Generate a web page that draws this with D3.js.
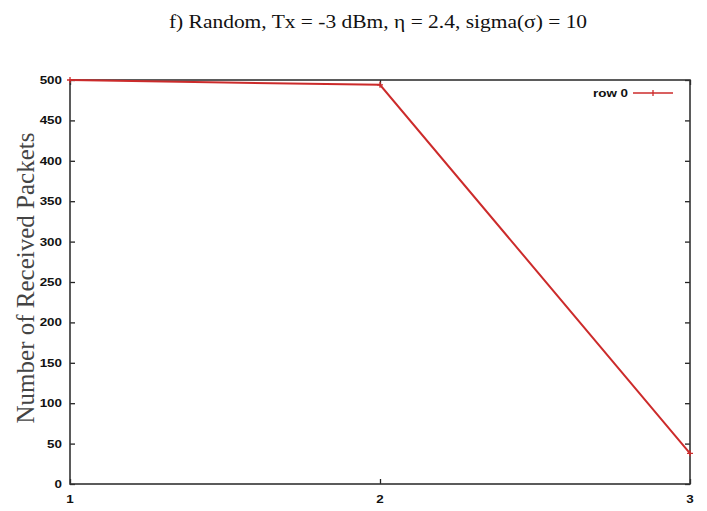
<!DOCTYPE html>
<html><head><meta charset="utf-8">
<script src="https://cdn.jsdelivr.net/npm/d3@7"></script>
<style>body{margin:0;background:#fff}svg{display:block}</style>
</head><body>
<script>
const xValues = [1, 2, 3];
const yValues = [500, 494, 38];
const yTicks = [0, 50, 100, 150, 200, 250, 300, 350, 400, 450, 500];
const xTicks = [1, 2, 3];
const seriesName = "row 0";
const title = "f) Random, Tx = -3 dBm, \u03b7 = 2.4, sigma(\u03c3) = 10";
const yLabel = "Number of Received Packets";

const W = 707, H = 511;
const m = {l: 70, r: 17, t: 80, b: 27};
const svg = d3.select("body").append("svg").attr("width", W).attr("height", H);
const x = d3.scaleLinear().domain([1, 3]).range([m.l, W - m.r]);
const y = d3.scaleLinear().domain([0, 500]).range([H - m.b, m.t]);
const red = "#cc2b2b";
const tf = "'Liberation Sans', Arial, sans-serif";
const serif = "'Liberation Serif', 'Times New Roman', serif";
const sx = 1.22;

svg.append("text").attr("transform", "translate(378,28) scale(1.13,1)").attr("text-anchor", "middle")
  .attr("font-family", serif).attr("font-size", 19).attr("fill", "#111")
  .text(title);

svg.append("text").attr("transform", `translate(34,278) rotate(-90)`)
  .attr("text-anchor", "middle")
  .attr("font-family", serif).attr("font-size", 25).attr("fill", "#444")
  .text(yLabel);

// left axis
const gl = svg.append("g").attr("transform", `translate(${m.l},0)`)
  .call(d3.axisLeft(y).tickValues(yTicks).tickSize(-5).tickFormat(""));
gl.select(".domain").remove();
gl.selectAll("line").attr("stroke", "#222").attr("stroke-width", 1.3);
svg.append("g").selectAll("text").data(yTicks).enter().append("text")
  .attr("transform", d => `translate(62,${y(d) + 4}) scale(${sx},1)`)
  .attr("text-anchor", "end").attr("font-family", tf).attr("font-size", 11)
  .attr("font-weight", "bold").attr("fill", "#111").text(d => d);
// right ticks
const gr = svg.append("g").attr("transform", `translate(${W - m.r},0)`)
  .call(d3.axisRight(y).tickValues(yTicks).tickSize(-5).tickFormat(""));
gr.select(".domain").remove();
gr.selectAll("line").attr("stroke", "#222").attr("stroke-width", 1.3);
// bottom axis
const gb = svg.append("g").attr("transform", `translate(0,${H - m.b})`)
  .call(d3.axisBottom(x).tickValues(xTicks).tickSize(-5).tickFormat(""));
gb.select(".domain").remove();
gb.selectAll("line").attr("stroke", "#222").attr("stroke-width", 1.3);
svg.append("g").selectAll("text").data(xTicks).enter().append("text")
  .attr("transform", d => `translate(${x(d)},503) scale(${sx},1)`)
  .attr("text-anchor", "middle").attr("font-family", tf).attr("font-size", 11)
  .attr("font-weight", "bold").attr("fill", "#111").text(d => d);
const gt = svg.append("g").attr("transform", `translate(0,${m.t})`)
  .call(d3.axisTop(x).tickValues(xTicks).tickSize(-5).tickFormat(""));
gt.select(".domain").remove();
gt.selectAll("line").attr("stroke", "#222").attr("stroke-width", 1.3);

// frame
svg.append("rect").attr("x", m.l).attr("y", m.t).attr("width", W - m.r - m.l).attr("height", H - m.b - m.t)
  .attr("fill", "none").attr("stroke", "#333").attr("stroke-width", 1.6);

// line
const pts = xValues.map((v, i) => [v, yValues[i]]);
svg.append("path").datum(pts)
  .attr("d", d3.line().x(d => x(d[0])).y(d => y(d[1])))
  .attr("fill", "none").attr("stroke", red).attr("stroke-width", 2);
svg.selectAll(".pt").data(pts).enter().append("path")
  .attr("d", d => `M${x(d[0]) - 3},${y(d[1])}H${x(d[0]) + 3}M${x(d[0])},${y(d[1]) - 3}V${y(d[1]) + 3}`)
  .attr("stroke", red).attr("stroke-width", 1.3);

// legend
const ly = 93;
svg.append("text").attr("transform", `translate(628,${ly + 4}) scale(${sx},1)`).attr("text-anchor", "end")
  .attr("font-family", tf).attr("font-size", 11).attr("font-weight", "bold").attr("fill", "#111").text(seriesName);
svg.append("line").attr("x1", 633).attr("x2", 673).attr("y1", ly).attr("y2", ly).attr("stroke", red).attr("stroke-width", 1.5);
svg.append("line").attr("x1", 653).attr("x2", 653).attr("y1", ly - 3).attr("y2", ly + 3).attr("stroke", red).attr("stroke-width", 1.3);
</script>
</body></html>
